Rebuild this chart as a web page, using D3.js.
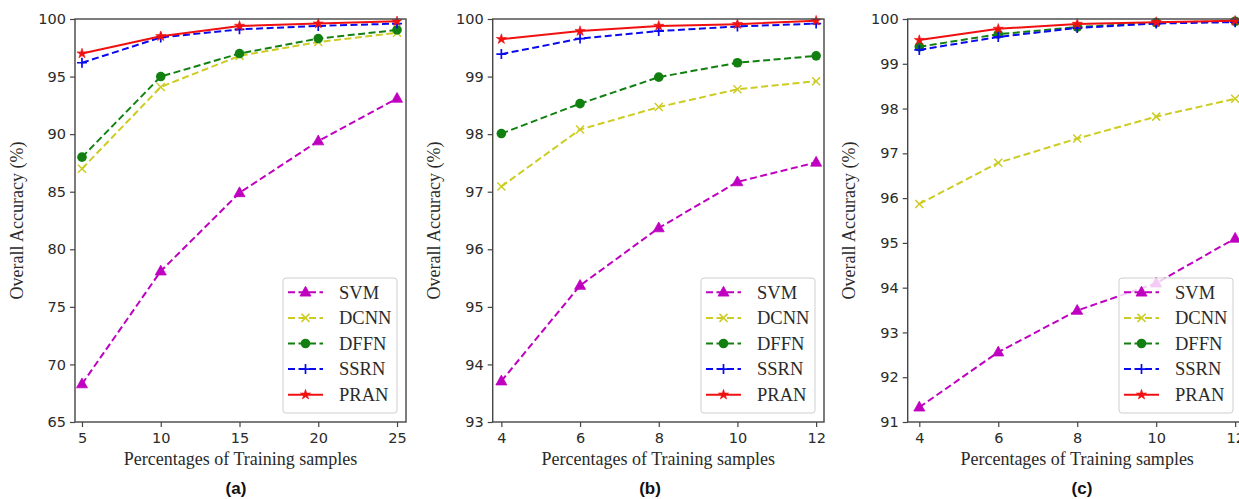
<!DOCTYPE html>
<html><head><meta charset="utf-8">
<script src="https://cdn.jsdelivr.net/npm/d3@7"></script>
<style>body{margin:0;background:#fff} svg{display:block}</style>
</head><body>
<svg id="chart" width="1239" height="499"></svg>
<script>
// ---------------- data ----------------
const seriesNames = ["SVM", "DCNN", "DFFN", "SSRN", "PRAN"];
const xA = [5, 10, 15, 20, 25];
const xBC = [4, 6, 8, 10, 12];

const svmA  = [68.3, 78.1, 84.9, 89.4, 93.1];
const dcnnA = [87.0, 94.1, 96.8, 98.0, 98.8];
const dffnA = [88.0, 95.0, 97.0, 98.3, 99.05];
const ssrnA = [96.2, 98.4, 99.1, 99.4, 99.6];
const pranA = [97.0, 98.5, 99.4, 99.6, 99.8];

const svmB  = [93.71, 95.37, 96.37, 97.17, 97.51];
const dcnnB = [97.09, 98.08, 98.47, 98.78, 98.92];
const dffnB = [98.01, 98.53, 98.99, 99.24, 99.36];
const ssrnB = [99.39, 99.66, 99.79, 99.87, 99.92];
const pranB = [99.65, 99.79, 99.88, 99.91, 99.97];

const svmC  = [91.33, 92.56, 93.49, 94.1, 95.1];
const dcnnC = [95.87, 96.79, 97.33, 97.82, 98.22];
const dffnC = [99.38, 99.66, 99.82, 99.92, 99.95];
const ssrnC = [99.31, 99.60, 99.80, 99.90, 99.93];
const pranC = [99.53, 99.78, 99.89, 99.93, 99.96];

const yTicksA = [65, 70, 75, 80, 85, 90, 95, 100];
const yTicksB = [93, 94, 95, 96, 97, 98, 99, 100];
const yTicksC = [91, 92, 93, 94, 95, 96, 97, 98, 99, 100];
const captions = ["(a)", "(b)", "(c)"];
const xLabelText = "Percentages of Training samples";
const yLabelText = "Overall Accuracy (%)";

// ---------------- layout / styles ----------------
const plotTop = 19, plotBottom = 422;
const panels = [
  {x: xA,  series: [svmA, dcnnA, dffnA, ssrnA, pranA], yTicks: yTicksA, xDom: [4.556, 25.57], yDom: [65, 100], left: 75,    right: 406,    legendLeft: 283,  captionX: 236},
  {x: xBC, series: [svmB, dcnnB, dffnB, ssrnB, pranB], yTicks: yTicksB, xDom: [3.78, 12.2],   yDom: [93, 100], left: 492.7, right: 824,    legendLeft: 701,  captionX: 650},
  {x: xBC, series: [svmC, dcnnC, dffnC, ssrnC, pranC], yTicks: yTicksC, xDom: [3.706, 12.29], yDom: [91, 100], left: 907.7, right: 1246.6, legendLeft: 1119, captionX: 1082}
];
const styles = [
  {color: "#c000c0", dash: "7,3.5", marker: "tri"},
  {color: "#cccc22", dash: "7,3.5", marker: "x"},
  {color: "#118011", dash: "7,3.5", marker: "o"},
  {color: "#0a0aee", dash: "7,3.5", marker: "plus"},
  {color: "#f01010", dash: null,    marker: "star"}
];
const axisColor = "#454545";
const textColor = "#2a2a2a";

const svg = d3.select("#chart");

function drawMarker(g, type, color, cx, cy) {
  if (type === "tri") {
    g.append("path").attr("d", `M${cx},${cy - 6}L${cx + 5.5},${cy + 3.8}L${cx - 5.5},${cy + 3.8}Z`)
      .attr("fill", color).attr("stroke", color).attr("stroke-width", 0.8);
  } else if (type === "x") {
    g.append("path").attr("d", `M${cx - 4},${cy - 4}L${cx + 4},${cy + 4}M${cx - 4},${cy + 4}L${cx + 4},${cy - 4}`)
      .attr("stroke", color).attr("stroke-width", 1.5).attr("fill", "none");
  } else if (type === "o") {
    g.append("circle").attr("cx", cx).attr("cy", cy).attr("r", 4.8).attr("fill", color);
  } else if (type === "plus") {
    g.append("path").attr("d", `M${cx - 5},${cy}L${cx + 5},${cy}M${cx},${cy - 5}L${cx},${cy + 5}`)
      .attr("stroke", color).attr("stroke-width", 1.7).attr("fill", "none");
  } else if (type === "star") {
    g.append("path").attr("d", d3.symbol().type(d3.symbolStar).size(32)())
      .attr("transform", `translate(${cx},${cy})`).attr("fill", color).attr("stroke", color).attr("stroke-width", 0.6);
  }
}

panels.forEach((p, pi) => {
  const xs = d3.scaleLinear().domain(p.xDom).range([p.left, p.right]);
  const ys = d3.scaleLinear().domain(p.yDom).range([plotBottom, plotTop]);
  const g = svg.append("g");

  const clipId = "clip" + pi;
  svg.append("clipPath").attr("id", clipId).append("rect")
    .attr("x", p.left).attr("y", plotTop).attr("width", p.right - p.left).attr("height", plotBottom - plotTop);

  // lines + markers
  const line = d3.line().x((d, i) => xs(p.x[i])).y(d => ys(d));
  p.series.forEach((vals, si) => {
    const st = styles[si];
    g.append("path").datum(vals).attr("d", line)
      .attr("clip-path", `url(#${clipId})`)
      .attr("fill", "none").attr("stroke", st.color).attr("stroke-width", 2)
      .attr("stroke-dasharray", st.dash);
    const mg = g.append("g");
    vals.forEach((v, i) => drawMarker(mg, st.marker, st.color, xs(p.x[i]), ys(v)));
  });

  // axes
  const yAxis = g.append("g").attr("transform", `translate(${p.left},0)`)
    .call(d3.axisLeft(ys).tickValues(p.yTicks).tickSize(5).tickPadding(4).tickFormat(d3.format("d")));
  const xAxis = g.append("g").attr("transform", `translate(0,${plotBottom})`)
    .call(d3.axisBottom(xs).tickValues(p.x).tickSize(5).tickPadding(6).tickFormat(d3.format("d")));
  [yAxis, xAxis].forEach(ax => {
    ax.select(".domain").remove();
    ax.selectAll(".tick line").attr("stroke", axisColor).attr("stroke-width", 1.2);
    ax.selectAll(".tick text").attr("fill", textColor)
      .style("font-family", "'DejaVu Sans', sans-serif").style("font-size", "14.5px");
  });

  // spines
  g.append("rect").attr("x", p.left).attr("y", plotTop)
    .attr("width", p.right - p.left).attr("height", plotBottom - plotTop)
    .attr("fill", "none").attr("stroke", axisColor).attr("stroke-width", 1.4);

  // axis labels
  g.append("text").attr("x", (p.left + p.right) / 2).attr("y", 465)
    .attr("text-anchor", "middle").attr("fill", textColor)
    .style("font-family", "'Liberation Serif', 'Times New Roman', serif").style("font-size", "18px")
    .text(xLabelText);
  g.append("text")
    .attr("transform", `translate(${p.left - 52.5},${(plotTop + plotBottom) / 2}) rotate(-90)`)
    .attr("text-anchor", "middle").attr("fill", textColor)
    .style("font-family", "'Liberation Serif', 'Times New Roman', serif").style("font-size", "18px")
    .text(yLabelText);

  // caption
  g.append("text").attr("x", p.captionX).attr("y", 493.5)
    .attr("text-anchor", "middle").attr("fill", "#111")
    .style("font-family", "'Liberation Sans', Arial, sans-serif").style("font-size", "17px").style("font-weight", "bold")
    .text(captions[pi]);

  // legend
  const lg = g.append("g");
  const lx = p.legendLeft, ly = 278, lw = 114, lh = 135;
  lg.append("rect").attr("x", lx).attr("y", ly).attr("width", lw).attr("height", lh)
    .attr("rx", 3).attr("fill", "#fff").attr("fill-opacity", 0.8)
    .attr("stroke", "#cfcfcf").attr("stroke-width", 1);
  seriesNames.forEach((name, si) => {
    const st = styles[si];
    const cy = ly + 14.3 + si * 25.6;
    lg.append("line").attr("x1", lx + 5).attr("x2", lx + 40).attr("y1", cy).attr("y2", cy)
      .attr("stroke", st.color).attr("stroke-width", 2).attr("stroke-dasharray", st.dash);
    drawMarker(lg, st.marker, st.color, lx + 22.5, cy);
    lg.append("text").attr("x", lx + 56).attr("y", cy + 6.2).attr("fill", textColor)
      .style("font-family", "'Liberation Serif', 'Times New Roman', serif").style("font-size", "18.5px")
      .text(name);
  });
});
</script>
</body></html>
